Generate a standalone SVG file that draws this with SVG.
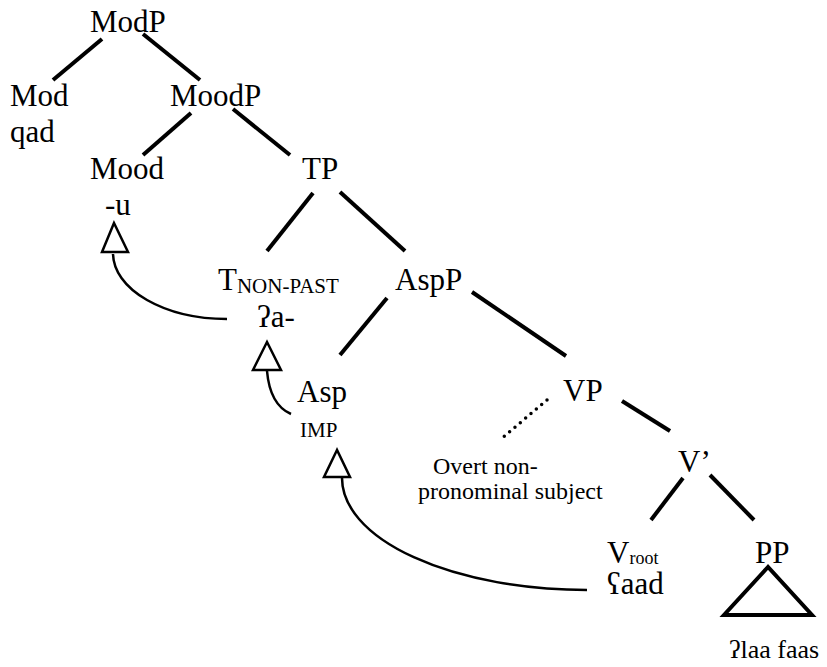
<svg xmlns="http://www.w3.org/2000/svg" width="827" height="667" viewBox="0 0 827 667">
<style>
  text { font-family: "Liberation Serif", "DejaVu Serif", serif; fill: #000; }
  .lbl { font-size: 31px; }
  .sub { font-size: 21px; }
  .note { font-size: 24px; }
  .root { font-size: 18px; }
  .pp { font-size: 26px; }
  .edge { stroke: #000; stroke-width: 4; fill: none; }
  .dots { stroke: #000; stroke-width: 3.5; stroke-linecap: round; stroke-dasharray: 0 7; fill: none; }
  .move { stroke: #000; stroke-width: 2.5; fill: none; }
  .tri { stroke: #000; stroke-width: 2.5; fill: #fff; stroke-linejoin: miter; }
  .tribig { stroke: #000; stroke-width: 4; fill: none; }
</style>
<rect width="827" height="667" fill="#fff"/>
<g id="connectors">
  <line class="edge" x1="102" y1="39" x2="53" y2="80"/>
  <line class="edge" x1="143" y1="34" x2="200" y2="80"/>
  <line class="edge" x1="191" y1="113" x2="143" y2="155"/>
  <line class="edge" x1="233" y1="109" x2="290" y2="155"/>
  <line class="edge" x1="313" y1="193" x2="267" y2="251"/>
  <line class="edge" x1="340" y1="192" x2="405" y2="251"/>
  <line class="edge" x1="387" y1="298" x2="340" y2="355"/>
  <line class="edge" x1="472" y1="292" x2="566" y2="356"/>
  <line class="edge" x1="622" y1="401" x2="670" y2="431"/>
  <line class="edge" x1="683" y1="478" x2="651" y2="520"/>
  <line class="edge" x1="710" y1="475" x2="754" y2="520"/>
  <line class="dots" x1="547" y1="400" x2="501" y2="439"/>
  <path class="move" d="M113,254 A114,66 0 0 0 227,319"/>
  <path class="move" d="M267,371 Q270,405 291,414"/>
  <path class="move" d="M342,478 A245,112 0 0 0 587,590"/>
  <polygon class="tri" points="114,223 102,252 128,252"/>
  <polygon class="tri" points="267,342 253,370 281,370"/>
  <polygon class="tri" points="337,450 324,477 350,477"/>
</g>
<g id="ModP"><text class="lbl" x="90" y="32">ModP</text></g>
<g id="Mod"><text class="lbl" x="10" y="106">Mod</text><text class="lbl" x="10" y="142">qad</text></g>
<g id="MoodP"><text class="lbl" x="170" y="106">MoodP</text></g>
<g id="Mood"><text class="lbl" x="90" y="179">Mood</text><text class="lbl" x="105" y="215">-u</text></g>
<g id="TP"><text class="lbl" x="302" y="179">TP</text></g>
<g id="T"><text class="lbl" x="218" y="290">T<tspan class="sub" dy="3">NON-PAST</tspan></text><text class="lbl" x="257" y="327">ʔa-</text></g>
<g id="AspP"><text class="lbl" x="395" y="290">AspP</text></g>
<g id="Asp"><text class="lbl" x="297" y="402">Asp</text><text class="sub" x="300" y="437">IMP</text></g>
<g id="VP"><text class="lbl" x="563" y="401">VP</text></g>
<g id="Subject"><text class="note" x="433" y="474">Overt non-</text><text class="note" x="418" y="499">pronominal subject</text></g>
<g id="Vbar"><text class="lbl" x="678" y="472">V’</text></g>
<g id="V"><text class="lbl" x="607" y="563">V<tspan class="root" dy="1">root</tspan></text><text class="lbl" x="607" y="594">ʕaad</text></g>
<g id="PP"><text class="lbl" x="755" y="563">PP</text><polygon class="tribig" points="768,567 724,615 812,615"/><text class="pp" x="729" y="658">ʔlaa faas</text></g>
</svg>
